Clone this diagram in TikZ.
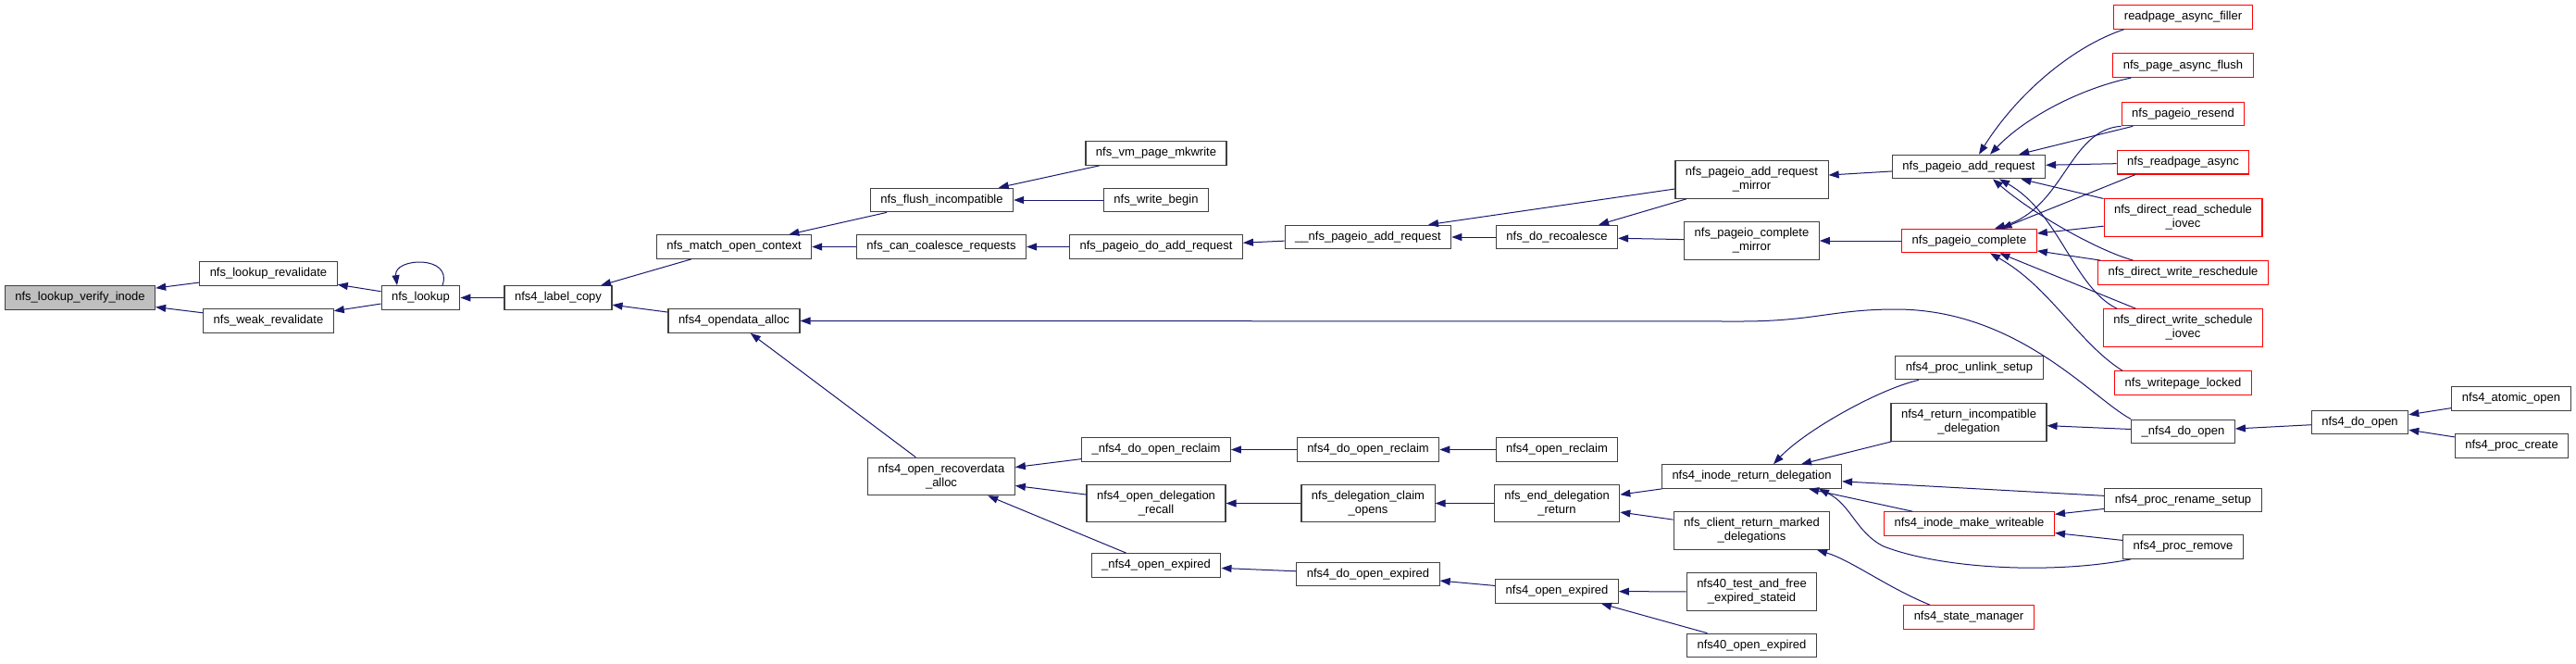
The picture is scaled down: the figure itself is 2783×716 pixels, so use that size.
\documentclass[tikz,border=0pt]{standalone}
\usepackage{fontspec}
\setmainfont{Liberation Sans}
\usepackage{tikz}
\usetikzlibrary{arrows.meta,positioning}
\definecolor{EdgeBlue}{HTML}{191970}
\definecolor{BoxLine}{HTML}{404040}
\definecolor{HotRed}{HTML}{FF0000}
\definecolor{RootGray}{HTML}{BFBFBF}

\begin{document}
\begin{tikzpicture}[
  x=1pt,y=-1pt,
  node distance=25.5pt,
  box/.style={draw=BoxLine,line width=1.1pt,fill=white,minimum height=25.5pt,inner xsep=11pt,inner ysep=6.75pt,align=center,font=\fontsize{13pt}{15pt}\selectfont},
  hot/.style={box,draw=HotRed},
  root/.style={box,fill=RootGray},
  call/.style={-{Triangle[length=11pt,width=8pt]},line width=1pt,draw=EdgeBlue}
]
\path[use as bounding box,fill=white] (0,0) rectangle (2783,716);

\node[root] (verify) at (86.5,321.5) {nfs\_lookup\_verify\_inode};
\node[box] (lkreval) at (290,295.5) {nfs\_lookup\_revalidate};
\node[box] (weakreval) at (290,346.5) {nfs\_weak\_revalidate};
\node[box] (lookup) at (454.5,321.5) {nfs\_lookup};
\node[box] (labelcopy) at (603,321.5) {nfs4\_label\_copy};
\node[box] (matchctx) at (793,266.5) {nfs\_match\_open\_context};
\node[box] (odalloc) at (793,346.5) {nfs4\_opendata\_alloc};
\node[box] (flushinc) at (1017.5,216) {nfs\_flush\_incompatible};
\node[box] (coalesce) at (1017,266.5) {nfs\_can\_coalesce\_requests};
\node[box] (recalloc) at (1017,514.5) {nfs4\_open\_recoverdata\\\_alloc};
\node[box] (mkwrite) at (1249,165.5) {nfs\_vm\_page\_mkwrite};
\node[box] (wrbegin) at (1249,216) {nfs\_write\_begin};
\node[box] (doadd) at (1249,266.5) {nfs\_pageio\_do\_add\_request};
\node[box] (doreclaimx) at (1249,485.5) {\_nfs4\_do\_open\_reclaim};
\node[box] (delrecall) at (1249,543.5) {nfs4\_open\_delegation\\\_recall};
\node[box] (openexpx) at (1249,610.5) {\_nfs4\_open\_expired};
\node[box] (pgadd) at (1478,256) {\_\_nfs\_pageio\_add\_request};
\node[box] (doreclaim) at (1478,485.5) {nfs4\_do\_open\_reclaim};
\node[box] (claimopens) at (1478,543.5) {nfs\_delegation\_claim\\\_opens};
\node[box] (doopenexp) at (1478,620) {nfs4\_do\_open\_expired};
\node[box] (recoalesce) at (1682,256) {nfs\_do\_recoalesce};
\node[box] (openreclaim) at (1682,485.5) {nfs4\_open\_reclaim};
\node[box] (enddel) at (1682,543.5) {nfs\_end\_delegation\\\_return};
\node[box] (openexp) at (1682,638.5) {nfs4\_open\_expired};
\node[box] (addmirror) at (1892.5,194) {nfs\_pageio\_add\_request\\\_mirror};
\node[box] (cmplmirror) at (1892.5,260) {nfs\_pageio\_complete\\\_mirror};
\node[box] (inoderet) at (1892.5,514.5) {nfs4\_inode\_return\_delegation};
\node[box] (clientret) at (1892.5,573) {nfs\_client\_return\_marked\\\_delegations};
\node[box] (testfree) at (1892.5,639) {nfs40\_test\_and\_free\\\_expired\_stateid};
\node[box] (open40) at (1892.5,697) {nfs40\_open\_expired};
\node[box] (addreq) at (2127,180) {nfs\_pageio\_add\_request};
\node[hot] (complete) at (2127.5,260) {nfs\_pageio\_complete};
\node[box] (unlink) at (2127.5,397) {nfs4\_proc\_unlink\_setup};
\node[box] (retincompat) at (2127,456) {nfs4\_return\_incompatible\\\_delegation};
\node[hot] (mkwriteable) at (2127.5,565.5) {nfs4\_inode\_make\_writeable};
\node[hot] (statemgr) at (2127,666.5) {nfs4\_state\_manager};
% callers stacked in one column
\node[hot] (filler) at (2358.5,18.5) {readpage\_async\_filler};
\node[hot,below=of filler] (asyncflush) {nfs\_page\_async\_flush};
\node[hot,below=of asyncflush] (resend) {nfs\_pageio\_resend};
\node[hot,below=of resend] (rdasync) {nfs\_readpage\_async};
\node[hot,below=of rdasync] (dread) {nfs\_direct\_read\_schedule\\\_iovec};
\node[hot,below=of dread] (wresched) {nfs\_direct\_write\_reschedule};
\node[hot,below=of wresched] (wsched) {nfs\_direct\_write\_schedule\\\_iovec};
\node[hot,below=of wsched] (wplocked) {nfs\_writepage\_locked};
\node[box,below=of wplocked] (ndoopen) {\_nfs4\_do\_open};
\node[box] (rename) at (2358.5,540) {nfs4\_proc\_rename\_setup};
\node[box] (remove) at (2358.5,590.5) {nfs4\_proc\_remove};
\node[box] (doopen) at (2549.5,456) {nfs4\_do\_open};
\node[box] (atomic) at (2713,430.5) {nfs4\_atomic\_open};
\node[box] (create) at (2713.5,481.5) {nfs4\_proc\_create};

\foreach \a/\b in {lkreval/verify,weakreval/verify,lookup/lkreval,lookup/weakreval,labelcopy/lookup,
  matchctx/labelcopy,odalloc/labelcopy,flushinc/matchctx,coalesce/matchctx,mkwrite/flushinc,wrbegin/flushinc,
  doadd/coalesce,pgadd/doadd,recoalesce/pgadd,addmirror/recoalesce,cmplmirror/recoalesce,addreq/addmirror,
  complete/cmplmirror,resend/addreq,rdasync/addreq,dread/addreq,dread/complete,wresched/complete,wsched/complete,
  recalloc/odalloc,doreclaimx/recalloc,delrecall/recalloc,openexpx/recalloc,doreclaim/doreclaimx,
  claimopens/delrecall,doopenexp/openexpx,openreclaim/doreclaim,enddel/claimopens,openexp/doopenexp,
  inoderet/enddel,clientret/enddel,testfree/openexp,open40/openexp,retincompat/inoderet,rename/inoderet,
  mkwriteable/inoderet,rename/mkwriteable,remove/mkwriteable,ndoopen/retincompat,doopen/ndoopen,
  atomic/doopen,create/doopen}{\draw[call] (\a) -- (\b);}

% recursive call
\draw[call] ([xshift=23.5pt]lookup.north) .. controls (490,275) and (425,278) .. ([xshift=-25.5pt]lookup.north);
\draw[call] ([yshift=-10pt]addmirror.west) -- ([xshift=65pt]pgadd.north);
\draw[call] ([xshift=11pt]filler.south west) .. controls (2240,50) and (2180,100) .. ([xshift=11pt]addreq.north);
\draw[call] ([xshift=20pt]asyncflush.south west) .. controls (2250,95) and (2190,125) .. ([xshift=23pt]addreq.north);
\draw[call] ([xshift=-54pt]wresched.north) .. controls (2265,270) and (2195,230) .. ([xshift=26pt]addreq.south);
\draw[call] ([xshift=-71.5pt]wsched.north) .. controls (2240,310) and (2225,230) .. ([xshift=33pt]addreq.south);
\draw[call] (resend.south west) .. controls (2235,140) and (2230,225) .. ([xshift=27.5pt]complete.north);
\draw[call] ([xshift=-51.5pt]rdasync.south) -- ([xshift=35pt]complete.north);
\draw[call] ([xshift=9pt]wplocked.north west) .. controls (2245,370) and (2215,310) .. ([xshift=22.5pt]complete.south);
\draw[call] (ndoopen.north west) .. controls (2260,430) and (2180,334) .. (2048,334)
  .. controls (1980,334) and (1960,347) .. (1880,347) -- (odalloc.east);
\draw[call] ([xshift=-54.5pt]unlink.south) .. controls (2030,420) and (1950,465) .. ([xshift=23.5pt]inoderet.north);
\draw[call] ([xshift=9pt]remove.south west) .. controls (2220,620) and (2100,615) .. (2035,590)
  .. controls (2005,575) and (2000,545) .. ([xshift=72.5pt]inoderet.south);
\draw[call] ([xshift=-42pt]statemgr.north) .. controls (2040,635) and (2000,605) .. ([xshift=70.5pt]clientret.south);
\end{tikzpicture}
\end{document}
